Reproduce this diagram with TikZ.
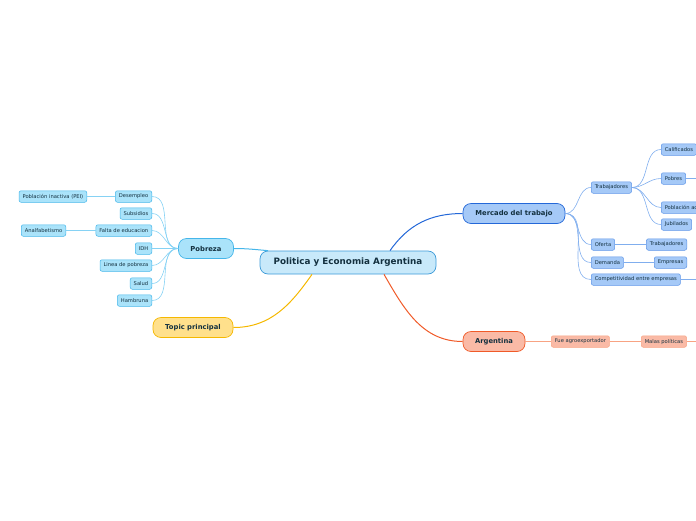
\documentclass[tikz,border=0pt]{standalone}
\usepackage{fontspec}
\setmainfont{DejaVu Sans}
\definecolor{txtdark}{HTML}{13303F}
\definecolor{cenfill}{HTML}{C8E9FA}
\definecolor{cendraw}{HTML}{3B9AD8}
\definecolor{pobfill}{HTML}{AAE3FA}
\definecolor{pobdraw}{HTML}{45B6EA}
\definecolor{pobline}{HTML}{86D2F4}
\definecolor{merfill}{HTML}{A5C9F7}
\definecolor{merdraw}{HTML}{2468D8}
\definecolor{merline}{HTML}{80AEEE}
\definecolor{merkid}{HTML}{5E95E8}
\definecolor{argfill}{HTML}{FABAA6}
\definecolor{argdraw}{HTML}{F05A28}
\definecolor{argline}{HTML}{F8A383}
\definecolor{topfill}{HTML}{FFE08C}
\definecolor{topdraw}{HTML}{F5B800}
\tikzset{
  central/.style={draw=cendraw, fill=cenfill, rounded corners=8pt, line width=0.7pt,
    minimum width=176pt, minimum height=23pt, text=txtdark,
    font=\fontsize{8.8}{10}\selectfont\bfseries},
  maintopic/.style={rounded corners=8pt, line width=0.7pt, minimum height=20pt,
    inner xsep=6pt, text=txtdark, font=\fontsize{6.8}{8}\selectfont\bfseries},
  subtopic/.style={rounded corners=2pt, line width=0.5pt, minimum height=11.5pt,
    inner xsep=3.5pt, inner ysep=0pt, text=txtdark, font=\fontsize{5.2}{6}\selectfont},
  pob/.style={subtopic, draw=pobdraw, fill=pobfill},
  mer/.style={subtopic, draw=merkid, fill=merfill},
  arg/.style={subtopic, draw=argline, fill=argfill},
  pobcon/.style={draw=pobline, line width=0.6pt},
  mercon/.style={draw=merline, line width=0.6pt},
  argcon/.style={draw=argline, line width=0.6pt}
}
\begin{document}
\begin{tikzpicture}[x=1pt, y=1pt]
  \useasboundingbox (0,1.5) rectangle (696,-518.5);
  \clip (0,1.5) rectangle (696,-518.5);

  % central topic
  \node[central] (center) at (348,-261) {Politica y Economia Argentina};

  % main topics
  \node[maintopic, draw=merdraw, fill=merfill, minimum width=102pt] (mercado) at (514,-212) {Mercado del trabajo};
  \node[maintopic, draw=pobdraw, fill=pobfill, minimum width=55pt] (pobreza) at (206,-247) {Pobreza};
  \node[maintopic, draw=topdraw, fill=topfill, minimum width=80pt] (topic) at (193,-326) {Topic principal};
  \node[maintopic, draw=argdraw, fill=argfill, minimum width=62pt] (argentina) at (494,-340) {Argentina};

  % Pobreza branch
  \node[pob, anchor=east] (desempleo) at (152,-195) {Desempleo};
  \node[pob, anchor=east] (subsidios) at (152,-212) {Subsidios};
  \node[pob, anchor=east] (educacion) at (152,-229) {Falta de educacion};
  \node[pob, anchor=east] (idh) at (152,-247) {IDH};
  \node[pob, anchor=east] (linea) at (152,-264) {Linea de pobreza};
  \node[pob, anchor=east] (salud) at (152,-282) {Salud};
  \node[pob, anchor=east] (hambruna) at (152,-299) {Hambruna};
  \node[pob, anchor=east] (pei) at (87,-195) {Población inactiva (PEI)};
  \node[pob, anchor=east] (analfa) at (66,-229) {Analfabetismo};

  % Mercado del trabajo branch
  \node[mer, anchor=west] (trabajadores) at (591,-186) {Trabajadores};
  \node[mer, anchor=west] (oferta) at (591,-243) {Oferta};
  \node[mer, anchor=west] (demanda) at (591,-261) {Demanda};
  \node[mer, anchor=west] (competencia) at (591,-278) {Competitividad entre empresas};
  \node[mer, anchor=west] (calificados) at (661,-148) {Calificados};
  \node[mer, anchor=west] (pobres) at (661,-177) {Pobres};
  \node[mer, anchor=west] (activa) at (661,-206) {Población activa};
  \node[mer, anchor=west] (jubilados) at (661,-223) {Jubilados};
  \node[mer, anchor=east] (ofertrab) at (687,-243) {Trabajadores};
  \node[mer, anchor=east] (empresas) at (687,-261) {Empresas};

  % Argentina branch
  \node[arg, anchor=west] (agro) at (551,-340) {Fue agroexportador};
  \node[arg, anchor=west] (malas) at (641,-340) {Malas políticas};

  % loose ends past the right edge
  \coordinate (pobresnext) at (710,-177);
  \coordinate (compnext) at (710,-278);
  \coordinate (malasnext) at (710,-340);

  % main connectors
  \draw[draw=merdraw, line width=1pt] ([xshift=42pt]center.north) to[out=55, in=180] (mercado.west);
  \draw[draw=pobdraw, line width=1pt] ([xshift=-80pt]center.north) to[out=175, in=0] (pobreza.east);
  \draw[draw=topdraw, line width=1pt] ([xshift=-36pt]center.south) to[out=235, in=0] (topic.east);
  \draw[draw=argdraw, line width=1pt] ([xshift=36pt]center.south) to[out=300, in=180] (argentina.west);

  % Pobreza connectors
  \foreach \kid in {desempleo, subsidios, educacion, idh, linea, salud, hambruna}
    \draw[pobcon] (pobreza.west) to[out=180, in=0] (\kid.east);
  \draw[pobcon] (desempleo.west) -- (pei.east);
  \draw[pobcon] (educacion.west) -- (analfa.east);

  % Mercado connectors
  \foreach \kid in {trabajadores, oferta, demanda, competencia}
    \draw[mercon] (mercado.east) to[out=0, in=180] (\kid.west);
  \foreach \kid in {calificados, pobres, activa, jubilados}
    \draw[mercon] (trabajadores.east) to[out=0, in=180] (\kid.west);
  \draw[mercon] (oferta.east) -- (ofertrab.west);
  \draw[mercon] (demanda.east) -- (empresas.west);
  \draw[mercon] (pobres.east) -- (pobresnext);
  \draw[mercon] (competencia.east) -- (compnext);

  % Argentina connectors
  \draw[argcon] (argentina.east) -- (agro.west);
  \draw[argcon] (agro.east) -- (malas.west);
  \draw[argcon] (malas.east) -- (malasnext);
\end{tikzpicture}
\end{document}
